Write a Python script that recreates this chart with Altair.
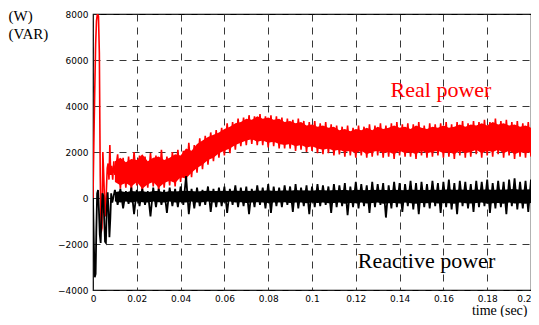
import altair as alt
import numpy as np
import pandas as pd

# ---- Real power (red) ----
red_t_transient = [0.0, 0.0004, 0.0008, 0.0012, 0.0016, 0.0020, 0.0025, 0.0029, 0.0033,
                   0.0037, 0.0041, 0.0045, 0.0049, 0.0053, 0.0057, 0.0061, 0.0065, 0.0069,
                   0.0073, 0.0077, 0.0081, 0.0085, 0.0090, 0.0095, 0.0100]
red_v_transient = [0, 2500, 4700, 6700, 7700, 8000, 7900, 6300, 1000,
                   -1500, -1300, 2000, 1000, -200, -800, 300, 1300, 1500,
                   800, 2300, 1000, 1400, 800, 1600, 1000]

# band envelope, every 0.0025 s from t = 0.01
red_band_upper = [1600, 1750, 1550, 1700, 1650, 1900, 1600, 1750, 1800, 1650,
                  1750, 1900, 1850, 2150, 2050, 2350, 2500, 2650, 2750, 2850,
                  3000, 3100, 3250, 3300, 3450, 3400, 3550, 3450, 3500, 3400,
                  3450, 3300, 3350, 3250, 3300, 3150, 3200, 3100, 3150, 3050,
                  3100, 2950, 3000, 2900, 3000, 2950, 3050, 2950, 3100, 3000,
                  3050, 3150, 3050, 3100, 3000, 3150, 3050, 3000, 3100, 3050,
                  3150, 3050, 3100, 3200, 3100, 3200, 3150, 3250, 3150, 3300,
                  3200, 3250, 3150, 3200, 3100, 3150, 3050]
red_band_lower = [700, 550, 650, 500, 700, 400, 600, 700, 450, 650,
                  750, 650, 900, 850, 1100, 1300, 1450, 1650, 1750, 1950,
                  2050, 2150, 2300, 2400, 2500, 2550, 2450, 2500, 2400, 2450,
                  2350, 2300, 2350, 2250, 2300, 2200, 2250, 2150, 2100, 2150,
                  2050, 2100, 2000, 2050, 1950, 2050, 1900, 2000, 2050, 1950,
                  2000, 1900, 2050, 1950, 2000, 1900, 2050, 1950, 2000, 2050,
                  1950, 2000, 1900, 2050, 1950, 2000, 2100, 1950, 2050, 2000,
                  2100, 1950, 2050, 1900, 2000, 1950, 2000]
# noise spikes: highs at t = 0.01125 + 0.0025k, lows at t = 0.01 + 0.0025k
red_spike_hi = [1900, 1750, 1800, 2000, 1850, 1800, 1950, 1850, 2100, 1800,
                2000, 2100, 2050, 2400, 2300, 2600, 2700, 2850, 2950, 3050,
                3250, 3300, 3450, 3500, 3600, 3550, 3650, 3550, 3600, 3550,
                3500, 3450, 3400, 3450, 3350, 3300, 3350, 3250, 3300, 3200,
                3150, 3100, 3150, 3050, 3150, 3100, 3200, 3150, 3250, 3150,
                3250, 3300, 3200, 3250, 3200, 3300, 3150, 3250, 3200, 3250,
                3300, 3200, 3300, 3350, 3250, 3350, 3300, 3400, 3300, 3450,
                3350, 3400, 3300, 3350, 3250, 3300]
red_spike_lo = [500, 400, 450, 300, 550, 250, 450, 500, 300, 450,
                550, 500, 700, 650, 900, 1100, 1250, 1450, 1600, 1750,
                1850, 1950, 2100, 2250, 2300, 2350, 2300, 2300, 2200, 2250,
                2150, 2150, 2150, 2050, 2100, 2000, 2050, 1950, 1900, 1950,
                1850, 1900, 1800, 1850, 1750, 1850, 1750, 1800, 1850, 1750,
                1800, 1700, 1850, 1800, 1800, 1700, 1850, 1750, 1800, 1850,
                1750, 1800, 1700, 1850, 1750, 1800, 1900, 1750, 1850, 1800,
                1900, 1750, 1850, 1700, 1800, 1750, 1800]

# ---- Reactive power (black) ----
black_t_transient = [0.0, 0.0004, 0.0008, 0.0012, 0.0015, 0.0019, 0.0023, 0.0027, 0.0031,
                     0.0035, 0.0039, 0.0043, 0.0047, 0.0051, 0.0055, 0.0059, 0.0063,
                     0.0067, 0.0071, 0.0075, 0.0079, 0.0083, 0.0088]
black_v_transient = [0, -2000, -3450, -3300, -1500, 200, 350, -500, -1600,
                     -1950, -800, 200, 100, -900, -1900, -1950, -400,
                     250, -600, -1700, -900, 200, -200]
black_peaks = [350, 400, 300, 450, 350, 400, 300, 450, 400, 350,
               450, 400, 500, 950, 400, 450, 350, 500, 400, 450,
               500, 400, 550, 450, 500, 400, 550, 450, 600, 500,
               450, 550, 500, 600, 450, 550, 500, 600, 550, 500,
               600, 550, 650, 500, 700, 600, 550, 700, 600, 650,
               550, 700, 650, 600, 750, 650, 700, 600, 750, 650,
               700, 800, 650, 750, 700, 600, 750, 700, 800, 650,
               750, 700, 800, 850, 700, 750, 800]
black_troughs = [-300, -450, -250, -700, -350, -300, -800, -400, -300, -650,
                 -350, -400, -300, -700, -450, -350, -300, -600, -400, -350,
                 -650, -300, -400, -350, -700, -400, -300, -450, -650, -350,
                 -400, -300, -600, -450, -350, -700, -400, -350, -300, -650,
                 -400, -350, -750, -400, -450, -350, -650, -400, -300, -850,
                 -450, -400, -600, -350, -500, -700, -400, -450, -350, -650,
                 -400, -500, -700, -350, -450, -600, -400, -350, -650, -450,
                 -400, -700, -350, -500, -450, -600]
black_core_hi = [250, 300, 250, 300, 280, 300, 250, 300, 300, 250,
                 300, 280, 300, 320, 300, 280, 300, 320, 300, 300,
                 320, 300, 330, 300, 320, 300, 330, 320, 340, 300,
                 320, 340, 320, 350, 330, 340, 320, 350, 340, 330,
                 350, 340, 360, 330, 360, 350, 340, 360, 350, 360,
                 340, 360, 350, 340, 370, 350, 360, 340, 370, 350,
                 360, 380, 350, 370, 360, 350, 370, 360, 380, 350,
                 370, 360, 380, 390, 360, 370, 380]
black_core_lo = [-150, -200, -150, -200, -150, -180, -200, -150, -180, -200,
                 -150, -200, -180, -200, -150, -200, -180, -150, -200, -180,
                 -200, -150, -200, -180, -220, -200, -180, -200, -220, -200,
                 -200, -180, -220, -200, -200, -230, -200, -220, -200, -230,
                 -220, -200, -250, -220, -230, -200, -240, -220, -200, -250,
                 -230, -220, -240, -200, -230, -250, -220, -230, -200, -240,
                 -220, -230, -250, -200, -230, -240, -220, -200, -250, -230,
                 -220, -250, -200, -240, -230, -250, -220]

x_ticks = [0, 0.02, 0.04, 0.06, 0.08, 0.1, 0.12, 0.14, 0.16, 0.18, 0.2]
y_ticks = [-4000, -2000, 0, 2000, 4000, 6000, 8000]

label_text = ["Real power", "Reactive power"]
label_t = [0.1359, 0.1209]
label_v = [4391, -3043]
label_color = ["#ff0000", "#000000"]

# ---- tables ----
grid_t = np.round(0.01 + 0.0025 * np.arange(len(red_band_upper)), 6)
mid_t = np.round(0.01125 + 0.0025 * np.arange(len(red_spike_hi)), 6)

band_df = pd.DataFrame({"t": grid_t, "lo": red_band_lower, "hi": red_band_upper})
red_df = pd.concat([
    pd.DataFrame({"t": red_t_transient, "v": red_v_transient}),
    pd.DataFrame({"t": grid_t[1:], "v": red_spike_lo[1:]}),
    pd.DataFrame({"t": mid_t, "v": red_spike_hi}),
]).sort_values("t").reset_index(drop=True)

core_df = pd.DataFrame({"t": grid_t, "lo": black_core_lo, "hi": black_core_hi})
black_df = pd.concat([
    pd.DataFrame({"t": black_t_transient, "v": black_v_transient}),
    pd.DataFrame({"t": grid_t, "v": black_peaks}),
    pd.DataFrame({"t": mid_t, "v": black_troughs}),
]).sort_values("t").reset_index(drop=True)

lab_df = pd.DataFrame({"t": label_t, "v": label_v, "txt": label_text, "c": label_color})

xs = alt.Scale(domain=[0, 0.2], nice=False, zero=False)
ys = alt.Scale(domain=[-4000, 8000], nice=False, zero=False)

x_axis = alt.Axis(values=x_ticks,
                  labelExpr="datum.value == 0 ? '0' : format(datum.value, '~g')",
                  labelAlign=alt.ExprRef(expr="datum.value >= 0.2 ? 'right' : 'center'"),
                  grid=True, ticks=False, domain=False,
                  title="time (sec)", titleFont="Liberation Serif", titleFontSize=14,
                  titleFontWeight="normal", titleColor="black",
                  titleAlign="right", titleAnchor="end", titleX=434, titleY=24,
                  titleBaseline="alphabetic",
                  labelFont="DejaVu Sans", labelFontSize=9, labelColor="black",
                  labelPadding=4, labelFlush=False, labelOverlap=False)
y_axis = alt.Axis(values=y_ticks, format="d",
                  grid=True, ticks=False, domain=False,
                  title=["(W)", "(VAR)"], titleAngle=0, titleAlign="left",
                  titleX=-85, titleY=6, titleBaseline="alphabetic",
                  titleFont="Liberation Serif", titleFontSize=15,
                  titleFontWeight="normal", titleColor="black", titleLineHeight=18,
                  labelFont="DejaVu Sans", labelFontSize=9, labelColor="black",
                  labelPadding=5, labelFlush=False, labelOverlap=False)

band = alt.Chart(band_df).mark_area(color="#ff0000", clip=True, opacity=1).encode(
    x=alt.X("t:Q", scale=xs, axis=x_axis),
    y=alt.Y("lo:Q", scale=ys, axis=y_axis),
    y2="hi:Q",
)
red_line = alt.Chart(red_df).mark_line(color="#ff0000", strokeWidth=1.6, clip=True).encode(
    x=alt.X("t:Q", scale=xs), y=alt.Y("v:Q", scale=ys)
)
core = alt.Chart(core_df).mark_area(color="#000000", clip=True, opacity=1).encode(
    x=alt.X("t:Q", scale=xs), y=alt.Y("lo:Q", scale=ys), y2="hi:Q"
)
black_line = alt.Chart(black_df).mark_line(color="#000000", strokeWidth=1.8, clip=True).encode(
    x=alt.X("t:Q", scale=xs), y=alt.Y("v:Q", scale=ys)
)
labels = alt.Chart(lab_df).mark_text(font="Liberation Serif", fontSize=22, align="left",
                                     baseline="alphabetic").encode(
    x=alt.X("t:Q", scale=xs), y=alt.Y("v:Q", scale=ys),
    text="txt:N", color=alt.Color("c:N", scale=None)
)

chart = alt.layer(band, red_line, core, black_line, labels).properties(
    width=438, height=276,
    autosize=alt.AutoSizeParams(type="none"),
    padding={"left": 85, "top": 6, "right": 0, "bottom": 27},
).configure_view(stroke="black", strokeWidth=1.2).configure_axis(
    gridColor="#222222", gridDash=[7, 6], gridWidth=1, gridOpacity=0.9
)

chart.save("out.html", embed_options={"renderer": "svg", "actions": False})
